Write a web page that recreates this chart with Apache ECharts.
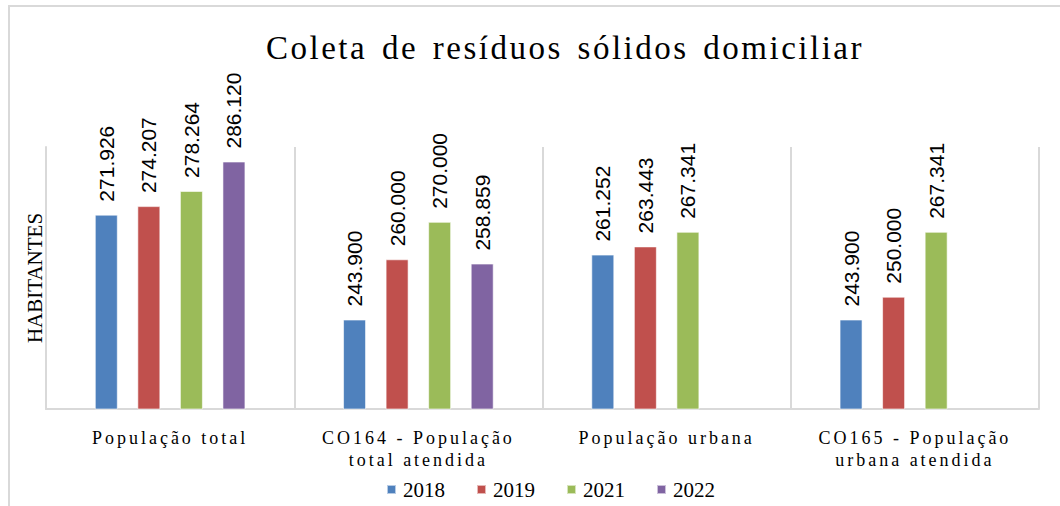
<!DOCTYPE html>
<html>
<head>
<meta charset="utf-8">
<script src="https://cdn.jsdelivr.net/npm/echarts@6/dist/echarts.min.js"></script>
<style>
  html, body { margin: 0; padding: 0; background: #fff; }
  #chart { width: 1060px; height: 506px; }
  /* the source chart uses spaced-out lettering for the title and category names */
  #chart text[style*="33px"] { letter-spacing: 2.5px; word-spacing: 4px; }
  #chart text[style*="18px"] { letter-spacing: 3px; }
</style>
</head>
<body>
<div id="chart"></div>
<script>
var categories = ['População total', 'CO164 - População\ntotal atendida', 'População urbana', 'CO165 - População\nurbana atendida'];
var years = ['2018', '2019', '2021', '2022'];
var s2018 = [271926, 243900, 261252, 243900];
var s2019 = [274207, 260000, 263443, 250000];
var s2021 = [278264, 270000, 267341, 267341];
var s2022 = [286120, 258859, null, null];
var colors = ['#4F81BD', '#C0504D', '#9BBB59', '#8064A2'];

function fmt(v) {
    return String(v).replace(/\B(?=(\d{3})+(?!\d))/g, '.');
}

function makeSeries(name, data) {
    return {
        name: name,
        type: 'bar',
        data: data,
        barWidth: 23,
        barGap: '85%',
        itemStyle: { borderColor: 'rgba(255,255,255,0.6)', borderWidth: 1 },
        label: {
            show: true,
            position: 'top',
            rotate: 90,
            align: 'left',
            verticalAlign: 'middle',
            distance: 13,
            fontFamily: 'Liberation Sans',
            fontSize: 21,
            color: '#000',
            formatter: function (p) { return fmt(p.value); }
        }
    };
}

var myChart = echarts.init(document.getElementById('chart'), null, { renderer: 'svg' });
var option = {
    animation: false,
    color: colors,
    textStyle: { fontFamily: 'Liberation Serif' },
    title: {
        text: 'Coleta de resíduos sólidos domiciliar',
        left: 560,
        top: 26,
        textAlign: 'center',
        textStyle: {
            fontFamily: 'Liberation Serif',
            fontWeight: 'normal',
            fontSize: 33,
            color: '#000'
        }
    },
    graphic: [{
        type: 'rect',
        shape: { x: 9, y: 6, width: 1200, height: 700 },
        style: { fill: 'none', stroke: '#d9d9d9', lineWidth: 2 },
        silent: true
    }],
    legend: {
        data: years,
        top: 474,
        left: 381,
        icon: 'rect',
        itemWidth: 9,
        itemHeight: 9,
        itemGap: 31,
        textStyle: { fontFamily: 'Liberation Serif', fontSize: 21, color: '#000', padding: [0, 0, 0, 2] }
    },
    grid: { left: 46, right: 21, top: 147, bottom: 97 },
    xAxis: {
        type: 'category',
        data: categories,
        axisLine: { lineStyle: { color: '#d9d9d9', width: 2 } },
        axisTick: { show: false },
        splitLine: { show: true, lineStyle: { color: '#d9d9d9', width: 2 } },
        axisLabel: {
            interval: 0,
            margin: 18,
            lineHeight: 22,
            fontFamily: 'Liberation Serif',
            fontSize: 18,
            color: '#000'
        }
    },
    yAxis: {
        type: 'value',
        min: 220000,
        max: 290000,
        name: 'HABITANTES',
        nameLocation: 'middle',
        nameGap: 1,
        nameTextStyle: { fontFamily: 'Liberation Serif', fontSize: 21, color: '#000' },
        axisLine: { show: true, lineStyle: { color: '#d9d9d9', width: 2 } },
        axisTick: { show: false },
        axisLabel: { show: false },
        splitLine: { show: false }
    },
    series: [
        makeSeries(years[0], s2018),
        makeSeries(years[1], s2019),
        makeSeries(years[2], s2021),
        makeSeries(years[3], s2022)
    ]
};

myChart.setOption(option);
</script>
</body>
</html>
